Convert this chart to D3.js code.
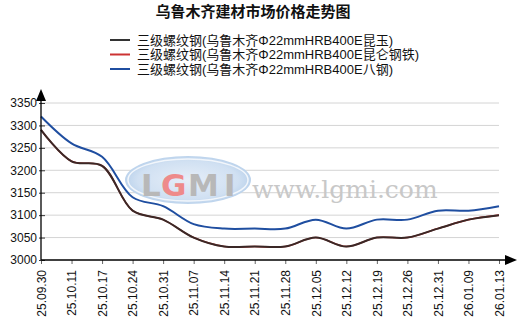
<!DOCTYPE html>
<html>
<head>
  <meta charset="utf-8" />
  <style>
    body { margin: 0; background: #ffffff; }
    svg { display: block; font-family: Arial, "Liberation Sans", "Noto Sans CJK SC", sans-serif; }
  </style>
  <script src="https://cdnjs.cloudflare.com/ajax/libs/d3/7.8.5/d3.min.js"></script>
</head>
<body>
<div id="chart"></div>
<script>
  // data
  var dates = ["25.09.30", "25.10.11", "25.10.17", "25.10.24", "25.10.31", "25.11.07", "25.11.14", "25.11.21",
    "25.11.28", "25.12.05", "25.12.12", "25.12.19", "25.12.26", "25.12.31", "26.01.09", "26.01.13"];
  var kunyu = [3290, 3220, 3210, 3110, 3090, 3050, 3030, 3030, 3030, 3050, 3030, 3050, 3050, 3070, 3090, 3100];
  var kunlun = [3290, 3220, 3210, 3110, 3090, 3050, 3030, 3030, 3030, 3050, 3030, 3050, 3050, 3070, 3090, 3100];
  var bagang = [3320, 3260, 3230, 3140, 3120, 3080, 3070, 3070, 3070, 3090, 3070, 3090, 3090, 3110, 3110, 3120];
  var yTicks = [3000, 3050, 3100, 3150, 3200, 3250, 3300, 3350];
  var names = ["三级螺纹钢(乌鲁木齐Φ22mmHRB400E昆玉)", "三级螺纹钢(乌鲁木齐Φ22mmHRB400E昆仑钢铁)", "三级螺纹钢(乌鲁木齐Φ22mmHRB400E八钢)"];
  var colors = ["#333333", "#cc3333", "#1f4ea0"];

  var W = 522, H = 334;
  var pLeft = 41, pRight = 499, pTop = 103, pBottom = 260;

  var svg = d3.select("#chart").append("svg")
    .attr("width", W).attr("height", H);

  var x = d3.scalePoint().domain(dates).range([pLeft, pRight]);
  var y = d3.scaleLinear().domain([3000, 3350]).range([pBottom, pTop]);

  // title
  svg.append("text")
    .attr("x", 253).attr("y", 17)
    .attr("text-anchor", "middle")
    .attr("font-size", "15px").attr("font-weight", "bold")
    .attr("fill", "#111")
    .text("乌鲁木齐建材市场价格走势图");

  // legend
  var leg = svg.append("g").selectAll("g").data(names).enter().append("g")
    .attr("transform", function (d, i) { return "translate(110," + (40 + i * 14.5) + ")"; });
  leg.append("line").attr("x1", 0).attr("x2", 20).attr("y1", 0).attr("y2", 0)
    .attr("stroke", function (d, i) { return colors[i]; }).attr("stroke-width", 2);
  leg.append("text").attr("x", 27).attr("y", 4.5)
    .attr("font-size", "13px").attr("fill", "#111")
    .text(function (d) { return d; });

  // gridlines
  svg.append("g").selectAll("line").data(yTicks.slice(1)).enter().append("line")
    .attr("x1", pLeft).attr("x2", pRight)
    .attr("y1", function (d) { return y(d); }).attr("y2", function (d) { return y(d); })
    .attr("stroke", "#d4d4d4").attr("stroke-width", 1);

  // watermark
  var wm = svg.append("g");
  var grad = svg.append("defs").append("radialGradient").attr("id", "lg");
  grad.append("stop").attr("offset", "0%").attr("stop-color", "#e6eef8");
  grad.append("stop").attr("offset", "80%").attr("stop-color", "#d0e0f2");
  grad.append("stop").attr("offset", "100%").attr("stop-color", "#bcd3ec");
  wm.append("ellipse").attr("cx", 188).attr("cy", 180).attr("rx", 63).attr("ry", 24)
    .attr("fill", "url(#lg)");
  wm.append("ellipse").attr("cx", 188).attr("cy", 180).attr("rx", 60).attr("ry", 21)
    .attr("fill", "none").attr("stroke", "#f2f6fb").attr("stroke-width", 1.5);
  var letters = [["L", "#b8b8b8", 141], ["G", "#ee8a8a", 161], ["M", "#b8b8b8", 188], ["I", "#b8b8b8", 224]];
  wm.selectAll("text.lg").data(letters).enter().append("text")
    .attr("class", "lg")
    .attr("x", function (d) { return d[2]; }).attr("y", 196)
    .attr("font-family", "'DejaVu Sans', Arial, sans-serif")
    .attr("font-size", "31px").attr("font-weight", "bold")
    .attr("fill", function (d) { return d[1]; })
    .text(function (d) { return d[0]; });
  wm.append("text").attr("x", 252).attr("y", 198)
    .attr("font-family", "'DejaVu Serif', 'Liberation Serif', serif")
    .attr("font-size", "25px").attr("fill", "#c8c8c8")
    .text("www.lgmi.com");

  // lines
  var line = d3.line()
    .x(function (d, i) { return x(dates[i]); })
    .y(function (d) { return y(d); })
    .curve(d3.curveCatmullRom.alpha(0.5));
  svg.append("path").datum(kunlun).attr("d", line)
    .attr("fill", "none").attr("stroke", colors[1]).attr("stroke-width", 1.6);
  svg.append("path").datum(kunyu).attr("d", line)
    .attr("fill", "none").attr("stroke", "#3a2826").attr("stroke-width", 2);
  svg.append("path").datum(bagang).attr("d", line)
    .attr("fill", "none").attr("stroke", colors[2]).attr("stroke-width", 2);

  // y axis
  var yAxis = svg.append("g").attr("transform", "translate(" + pLeft + ",0)")
    .call(d3.axisLeft(y).tickValues(yTicks).tickSize(3).tickPadding(1).tickFormat(d3.format("d")));
  yAxis.select(".domain").remove();
  yAxis.selectAll("line").attr("x1", -2).attr("x2", 4).attr("stroke", "#333");
  yAxis.selectAll("text").attr("font-size", "12px").attr("fill", "#111")
    .attr("font-family", "Arial, 'Liberation Sans', sans-serif");

  // x axis
  var xAxis = svg.append("g").attr("transform", "translate(0," + pBottom + ")")
    .call(d3.axisBottom(x).tickSize(4).tickPadding(0));
  xAxis.select(".domain").remove();
  xAxis.selectAll("line").attr("stroke", "#666");
  xAxis.selectAll("text")
    .attr("font-size", "12px").attr("fill", "#111")
    .attr("font-family", "Arial, 'Liberation Sans', sans-serif")
    .attr("text-anchor", "end")
    .attr("transform", "rotate(-90)")
    .attr("x", -10).attr("y", 0).attr("dy", "0.35em");

  // axis lines with arrows
  svg.append("line").attr("x1", pLeft).attr("x2", pLeft).attr("y1", pBottom).attr("y2", 96)
    .attr("stroke", "#000").attr("stroke-width", 1.3);
  svg.append("path").attr("d", "M" + pLeft + ",89 L" + (pLeft - 5) + ",101 L" + (pLeft + 5) + ",101 Z").attr("fill", "#000");
  svg.append("line").attr("x1", pLeft).attr("x2", 510).attr("y1", pBottom).attr("y2", pBottom)
    .attr("stroke", "#000").attr("stroke-width", 1.3);
  svg.append("path").attr("d", "M517," + pBottom + " L505," + (pBottom - 5) + " L505," + (pBottom + 5) + " Z").attr("fill", "#000");
</script>
</body>
</html>
